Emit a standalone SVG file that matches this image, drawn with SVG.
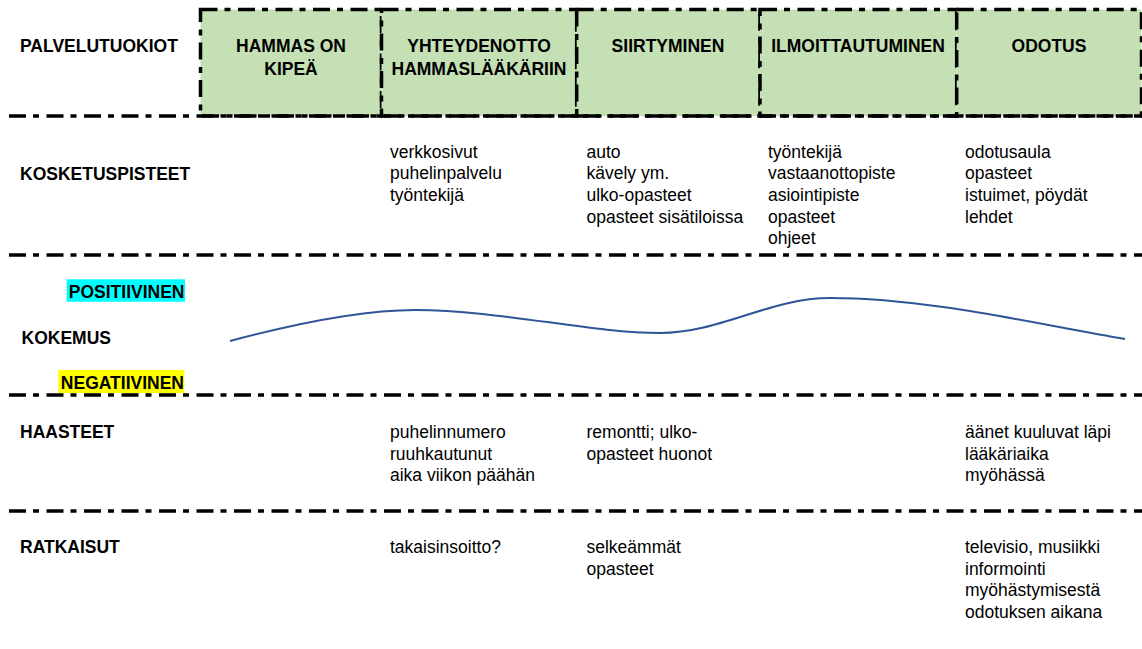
<svg xmlns="http://www.w3.org/2000/svg" width="1142" height="649" viewBox="0 0 1142 649">
<style>
text{font-family:"Liberation Sans",Arial,sans-serif;font-size:17.5px;fill:#000}
.b{font-weight:bold}
.hd{font-weight:bold;text-anchor:middle}
.box{fill:#C5E0B4;stroke:#000;stroke-width:3.5;stroke-dasharray:17 7 6 7.5}
.sep{stroke:#000;stroke-width:3.6;stroke-dasharray:17 7 6 7.5;fill:none}
.curve{fill:none;stroke:#2F5597;stroke-width:2}
</style>
<rect width="1142" height="649" fill="#fff"/>
<g id="stage-boxes">
<g id="box-hammas"><rect class="box" x="200.5" y="9.5" width="181" height="106.5"/>
<text class="hd" x="291" y="52">HAMMAS ON</text><text class="hd" x="291" y="75">KIPEÄ</text></g>
<g id="box-yhteydenotto"><rect class="box" x="381.5" y="9.5" width="195.2" height="106.5"/>
<text class="hd" x="479" y="52">YHTEYDENOTTO</text><text class="hd" x="479" y="75">HAMMASLÄÄKÄRIIN</text></g>
<g id="box-siirtyminen"><rect class="box" x="576.7" y="9.5" width="183.3" height="106.5"/>
<text class="hd" x="668" y="52">SIIRTYMINEN</text></g>
<g id="box-ilmoittautuminen"><rect class="box" x="760" y="9.5" width="196.7" height="106.5"/>
<text class="hd" x="858" y="52">ILMOITTAUTUMINEN</text></g>
<g id="box-odotus"><rect class="box" x="956.7" y="9.5" width="184.8" height="106.5"/>
<text class="hd" x="1049" y="52">ODOTUS</text></g>
</g>
<g id="separators">
<line class="sep" x1="9" y1="116" x2="1142" y2="116"/>
<line class="sep" x1="9" y1="255" x2="1142" y2="255"/>
<line class="sep" x1="9" y1="395" x2="1142" y2="395"/>
<line class="sep" x1="9" y1="511" x2="1142" y2="511"/>
</g>
<g id="row-labels">
<text id="lbl-palvelutuokiot" class="b" x="20" y="52">PALVELUTUOKIOT</text>
<text id="lbl-kosketuspisteet" class="b" x="20" y="179.5">KOSKETUSPISTEET</text>
<text id="lbl-kokemus" class="b" x="21.5" y="343.5">KOKEMUS</text>
<text id="lbl-haasteet" class="b" x="20" y="438">HAASTEET</text>
<text id="lbl-ratkaisut" class="b" x="20" y="553">RATKAISUT</text>
</g>
<g id="positiivinen"><rect x="66.7" y="279.3" width="118.3" height="22.4" fill="#00FFFF"/>
<text class="b" x="184.5" y="297.7" text-anchor="end">POSITIIVINEN</text></g>
<g id="negatiivinen"><rect x="58.3" y="370" width="126" height="23" fill="#FFFF00"/>
<text class="b" x="184" y="388.5" text-anchor="end">NEGATIIVINEN</text></g>
<g id="kokemus-curve">
<path class="curve" d="M230,341 C290,325 360,310 415,310 C500,310 590,333 660,333 C720,333 770,298 830,298 C930,298 1040,325 1125,339"/>
</g>
<g id="kosketuspisteet">
<g id="kp-yhteydenotto"><text x="390" y="157.5">verkkosivut</text><text x="390" y="179.2">puhelinpalvelu</text><text x="390" y="200.9">työntekijä</text></g>
<g id="kp-siirtyminen"><text x="586.5" y="157.5">auto</text><text x="586.5" y="179.2">kävely ym.</text><text x="586.5" y="200.9">ulko-opasteet</text><text x="586.5" y="222.6">opasteet sisätiloissa</text></g>
<g id="kp-ilmoittautuminen"><text x="768" y="157.5">työntekijä</text><text x="768" y="179.2">vastaanottopiste</text><text x="768" y="200.9">asiointipiste</text><text x="768" y="222.6">opasteet</text><text x="768" y="244.3">ohjeet</text></g>
<g id="kp-odotus"><text x="965" y="157.5">odotusaula</text><text x="965" y="179.2">opasteet</text><text x="965" y="200.9">istuimet, pöydät</text><text x="965" y="222.6">lehdet</text></g>
</g>
<g id="haasteet">
<g id="h-yhteydenotto"><text x="390" y="438">puhelinnumero</text><text x="390" y="459.7">ruuhkautunut</text><text x="390" y="481.4">aika viikon päähän</text></g>
<g id="h-siirtyminen"><text x="586.5" y="438">remontti; ulko-</text><text x="586.5" y="459.7">opasteet huonot</text></g>
<g id="h-odotus"><text x="965" y="438">äänet kuuluvat läpi</text><text x="965" y="459.7">lääkäriaika</text><text x="965" y="481.4">myöhässä</text></g>
</g>
<g id="ratkaisut">
<g id="r-yhteydenotto"><text x="390" y="553">takaisinsoitto?</text></g>
<g id="r-siirtyminen"><text x="586.5" y="553">selkeämmät</text><text x="586.5" y="574.7">opasteet</text></g>
<g id="r-odotus"><text x="965" y="553">televisio, musiikki</text><text x="965" y="574.7">informointi</text><text x="965" y="596.4">myöhästymisestä</text><text x="965" y="618.1">odotuksen aikana</text></g>
</g>
</svg>
